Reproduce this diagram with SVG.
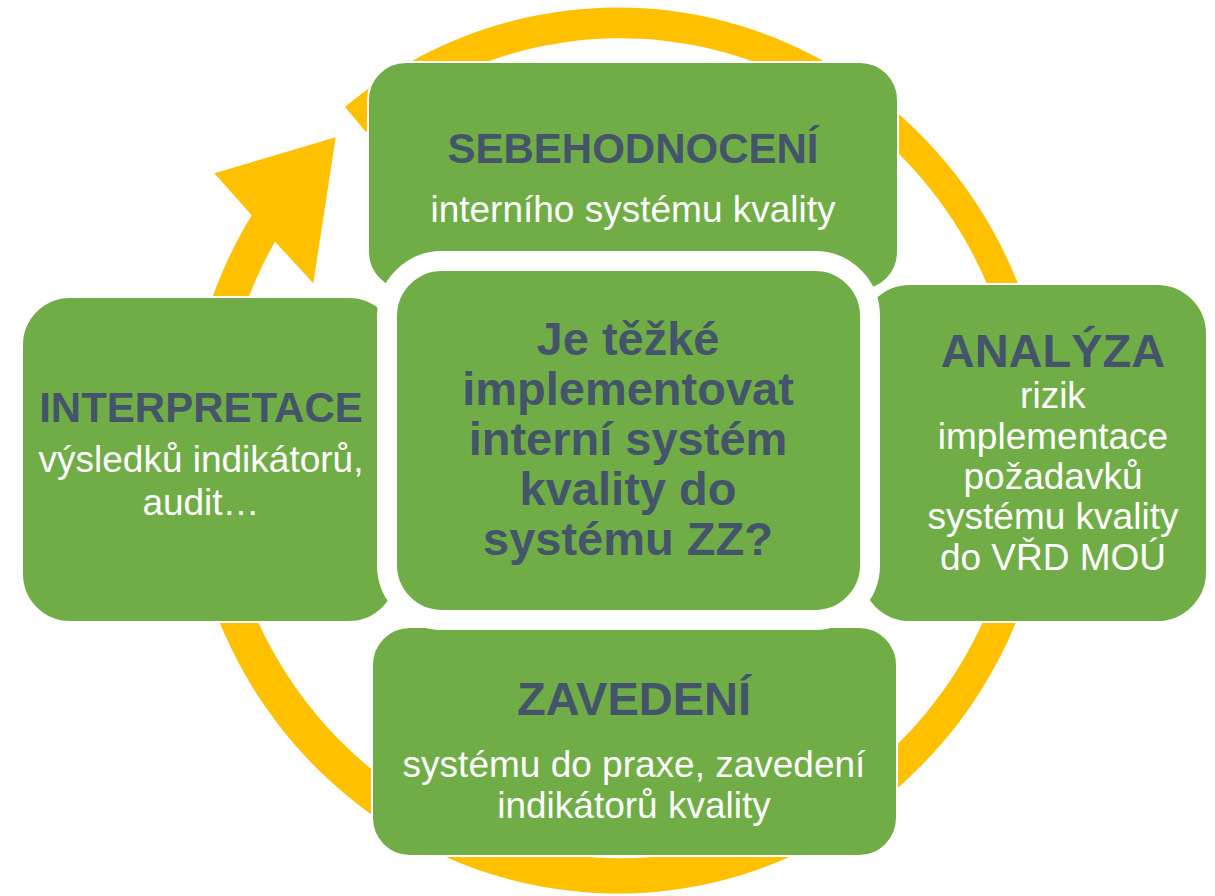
<svg xmlns="http://www.w3.org/2000/svg" width="1215" height="896" viewBox="0 0 1215 896">
  <style>
    .box { fill: #70AD47; stroke: #FFFFFF; stroke-width: 2; }
    .core { fill: #70AD47; stroke: #FFFFFF; stroke-width: 20; }
    .ring { fill: #FFC000; stroke: none; }
    text { font-family: "Liberation Sans", Arial, sans-serif; text-anchor: middle; }
    .head { font-weight: bold; fill: #44546A; font-size: 42px; }
    .head-l { font-weight: bold; fill: #44546A; font-size: 47px; }
    .body { fill: #FFFFFF; font-size: 37px; }
  </style>

  <rect width="1215" height="896" fill="#FFFFFF"/>

  <!-- circular arrow running clockwise behind the boxes -->
  <g id="connectors">
    <path class="ring" d="M 345 107
      A 432 443 0 1 1 251.7 215.3
      L 214.3 173.3 L 335.7 137.3 L 313.3 283.3 L 275 241.7
      A 400 410 0 1 0 366 132 Z"/>
  </g>

  <g id="node-sebehodnoceni">
    <rect class="box" x="368" y="62" width="530" height="228" rx="38"/>
    <text class="head" x="633" y="163">SEBEHODNOCENÍ</text>
    <text class="body" x="633" y="222">interního systému kvality</text>
  </g>

  <g id="node-interpretace">
    <rect class="box" x="22" y="297" width="375" height="325" rx="48"/>
    <text class="head" x="201" y="422">INTERPRETACE</text>
    <text class="body" x="201" y="472">výsledků indikátorů,</text>
    <text class="body" x="201" y="515">audit…</text>
  </g>

  <g id="node-analyza">
    <rect class="box" x="860" y="284" width="347" height="338" rx="50"/>
    <text class="head-l" x="1053" y="367">ANALÝZA</text>
    <text class="body" x="1053" y="408">rizik</text>
    <text class="body" x="1053" y="449">implementace</text>
    <text class="body" x="1053" y="489">požadavků</text>
    <text class="body" x="1053" y="529">systému kvality</text>
    <text class="body" x="1053" y="570">do VŘD MOÚ</text>
  </g>

  <g id="node-zavedeni">
    <rect class="box" x="372" y="627" width="525" height="229" rx="38"/>
    <text class="head-l" x="634" y="715">ZAVEDENÍ</text>
    <text class="body" x="634" y="777">systému do praxe, zavedení</text>
    <text class="body" x="634" y="818">indikátorů kvality</text>
  </g>

  <g id="node-center">
    <rect class="core" x="387" y="261" width="483" height="359" rx="55"/>
    <text class="head-l" x="628" y="355">Je těžké</text>
    <text class="head-l" x="628" y="405">implementovat</text>
    <text class="head-l" x="628" y="455">interní systém</text>
    <text class="head-l" x="628" y="505">kvality do</text>
    <text class="head-l" x="628" y="555">systému ZZ?</text>
  </g>
</svg>
